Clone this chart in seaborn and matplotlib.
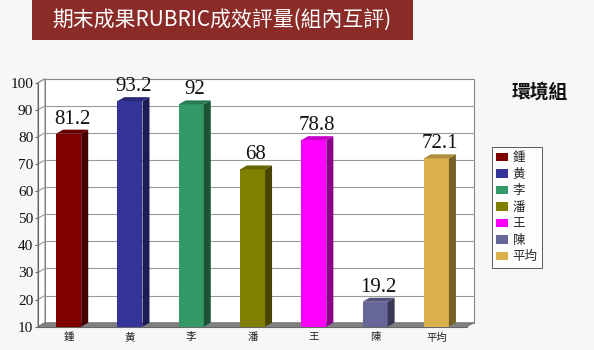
import matplotlib
matplotlib.use("Agg")
import matplotlib.pyplot as plt
import matplotlib.patches as mpatches
from matplotlib.colors import to_rgb
import seaborn as sns
import pandas as pd

# ---- data ----
names = ["鍾", "黄", "李", "潘", "王", "陳", "平均"]
values = [81.2, 93.2, 92, 68, 78.8, 19.2, 72.1]
colors = ["#800000", "#333399", "#339966", "#808000", "#FF00FF", "#666699", "#D9B04A"]
yticks = [10, 20, 30, 40, 50, 60, 70, 80, 90, 100]
title = "期末成果RUBRIC成效評量(組內互評)"
group = "環境組"

sns.set_theme(style="white")
plt.rcParams['font.family'] = ['Noto Sans CJK TC', 'DejaVu Sans']

W, H = 594, 350
fig = plt.figure(figsize=(W / 100, H / 100), dpi=100, facecolor="#f7f7f7")
ax_l, ax_r, ax_b, ax_t = 38, 467, 326.7, 82.7
ax = fig.add_axes([ax_l / W, 1 - ax_b / H, (ax_r - ax_l) / W, (ax_b - ax_t) / H])
ax.set_facecolor("none")

df = pd.DataFrame({"name": names, "value": values})
sns.barplot(data=df, x="name", y="value", hue="name", palette=colors,
            width=0.41, saturation=1, legend=False, ax=ax, zorder=3, edgecolor="none")
ax.set_ylim(10, 100)
ax.set_xlim(-0.5, len(names) - 0.5)

# depth offsets (pixels -> data)
dpx, dpy = 7, 4
ppu_x = (ax_r - ax_l) / len(names)
ppu_y = (ax_b - ax_t) / 90
dx = dpx / ppu_x
dy = dpy / ppu_y
x0, x1 = -0.5, len(names) - 0.5

# back wall
wall = mpatches.Polygon([(x0 + dx, 10 + dy), (x1 + dx, 10 + dy), (x1 + dx, 100 + dy), (x0 + dx, 100 + dy)],
                        closed=True, facecolor="white", edgecolor="#888888", lw=0.8, zorder=0, clip_on=False)
ax.add_patch(wall)
# left side wall
side = mpatches.Polygon([(x0, 10), (x0 + dx, 10 + dy), (x0 + dx, 100 + dy), (x0, 100)],
                        closed=True, facecolor="white", edgecolor="#888888", lw=0.8, zorder=0, clip_on=False)
ax.add_patch(side)
# grid lines on back wall + diagonals on side wall
for t in yticks[1:-1]:
    ax.plot([x0 + dx, x1 + dx], [t + dy, t + dy], color="#999999", lw=0.8, zorder=1, clip_on=False)
for t in yticks:
    ax.plot([x0, x0 + dx], [t, t + dy], color="#999999", lw=0.8, zorder=1, clip_on=False)
# floor
floor = mpatches.Polygon([(x0, 10), (x1, 10), (x1 + dx, 10 + dy), (x0 + dx, 10 + dy)],
                         closed=True, facecolor="#7f7f7f", edgecolor="#777777", lw=0.6, zorder=2, clip_on=False)
ax.add_patch(floor)


def shade(c, f):
    r, g, b = to_rgb(c)
    return (r * f, g * f, b * f)


bars = sorted([p for p in ax.patches if isinstance(p, mpatches.Rectangle) and p.get_height() > 0
               and p.get_zorder() == 3], key=lambda p: p.get_x())
for p, v, c in zip(bars, values, colors):
    bx0 = p.get_x()
    bx1 = bx0 + p.get_width()
    top = p.get_y() + p.get_height()
    sidef = mpatches.Polygon([(bx1, 10), (bx1 + dx, 10 + dy), (bx1 + dx, top + dy), (bx1, top)],
                             closed=True, facecolor=shade(c, 0.55), edgecolor="none", zorder=3, clip_on=False)
    topf = mpatches.Polygon([(bx0, top), (bx1, top), (bx1 + dx, top + dy), (bx0 + dx, top + dy)],
                            closed=True, facecolor=shade(c, 0.8), edgecolor="none", zorder=3, clip_on=False)
    ax.add_patch(sidef)
    ax.add_patch(topf)
    ax.text((bx0 + bx1) / 2 + dx / 2, top + 14.5 / ppu_y, f"{v:g}", ha="center", va="center",
            fontsize=15, family="Liberation Serif", color="#111111", zorder=5)

# axes styling
for s in ["top", "right"]:
    ax.spines[s].set_visible(False)
ax.spines["left"].set_color("#666666")
ax.spines["left"].set_linewidth(0.8)
ax.spines["bottom"].set_color("#666666")
ax.spines["bottom"].set_linewidth(0.8)
ax.set_yticks(yticks)
ax.set_yticklabels([str(t) for t in yticks], family="Liberation Serif", fontsize=11, color="#111111")
ax.tick_params(axis="y", length=2.5, width=0.8, color="#666666", pad=1, left=True)
ax.tick_params(axis="x", length=0, pad=4)
for lab in ax.get_xticklabels():
    lab.set_fontsize(7.5)
    lab.set_color("#222222")
ax.set_xlabel("")
ax.set_ylabel("")

# title banner
fig.patches.append(mpatches.Rectangle((32 / W, 1 - 40 / H), (413 - 32) / W, 40 / H,
                                      transform=fig.transFigure, facecolor="#8B2B27",
                                      edgecolor="none", zorder=0))
fig.text(222 / W, 1 - 20 / H, title, ha="center", va="center", color="white", fontsize=15)

# group label
fig.text(540 / W, 1 - 92 / H, group, ha="center", va="center", fontsize=13.5, weight="bold", color="#111111")

# legend
handles = [mpatches.Patch(facecolor=c, edgecolor="none") for c in colors]
leg = fig.legend(handles, names, loc="upper left", bbox_to_anchor=(492 / W, 1 - 147 / H),
                 frameon=True, fancybox=False, fontsize=9, handlelength=0.9, handleheight=0.7,
                 handletextpad=0.4, labelspacing=0.28, borderpad=0.35, borderaxespad=0)
leg.get_frame().set_edgecolor("#333333")
leg.get_frame().set_linewidth(0.7)
leg.get_frame().set_facecolor("white")

fig.savefig("out.png", dpi=100, facecolor=fig.get_facecolor())
